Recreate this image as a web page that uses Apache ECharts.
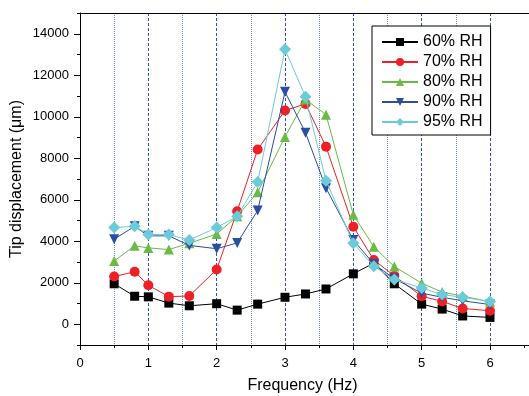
<!DOCTYPE html>
<html>
<head>
<meta charset="utf-8">
<script src="https://cdn.jsdelivr.net/npm/echarts@6/dist/echarts.min.js"></script>
<style>html,body{margin:0;padding:0;background:#fff}#c{width:529px;height:396px}</style>
</head>
<body>
<div id="c"></div>
<script>
var freq = [0.5, 0.8, 1.0, 1.3, 1.6, 2.0, 2.3, 2.6, 3.0, 3.3, 3.6, 4.0, 4.3, 4.6, 5.0, 5.3, 5.6, 6.0];
var rh60 = [1950, 1350, 1320, 1020, 890, 990, 680, 970, 1300, 1460, 1700, 2430, 2950, 1950, 970, 730, 400, 330];
var rh70 = [2300, 2530, 1880, 1330, 1360, 2640, 5450, 8420, 10300, 10620, 8560, 4700, 3100, 2330, 1350, 1100, 760, 650];
var rh80 = [3050, 3780, 3680, 3600, 3900, 4350, 5200, 6360, 9030, 10830, 10100, 5280, 3730, 2780, 1980, 1550, 1360, 1080];
var rh90 = [4100, 4720, 4260, 4260, 3800, 3640, 3920, 5480, 11200, 9230, 6560, 4060, 2900, 2200, 1500, 1300, 1130, 950];
var rh95 = [4660, 4720, 4330, 4320, 4060, 4660, 5200, 6850, 13250, 10960, 6920, 3900, 2800, 2160, 1750, 1430, 1300, 1100];
var seriesNames = ['60% RH', '70% RH', '80% RH', '90% RH', '95% RH'];
var xTicks = [0, 1, 2, 3, 4, 5, 6];
var yTicks = [0, 2000, 4000, 6000, 8000, 10000, 12000, 14000];

var colors = ['#000000', '#ee1f25', '#69bb44', '#2a4ea2', '#6ccbd9'];
var symbols = ['rect', 'circle', 'triangle', 'triangle', 'diamond'];
var rots = [0, 0, 0, 180, 0];
var sizes = [9, 10, 10, 10, 12];
var values = [rh60, rh70, rh80, rh90, rh95];
var FONT = "'Liberation Sans', Arial, sans-serif";

// colours for the half-step dotted grid lines (0, 0.5, 1, ... 6.5, 6.6): only odd half steps up to 5.5
var minorColors = [];
for (var k = 0; k <= 14; k++) minorColors.push((k % 2 === 1 && k < 13) ? '#6f86e6' : 'rgba(0,0,0,0)');

var series = seriesNames.map(function (n, i) {
  return {
    name: n, type: 'line', xAxisIndex: 0, yAxisIndex: 0,
    data: freq.map(function (f, j) { return [f, values[i][j]]; }),
    symbol: symbols[i], symbolRotate: rots[i], symbolSize: sizes[i],
    showAllSymbol: true,
    itemStyle: { color: colors[i] },
    lineStyle: { color: colors[i], width: 1 },
    z: 3 + i
  };
});

var chart = echarts.init(document.getElementById('c'), null, { renderer: 'canvas' });
chart.setOption({
  animation: false,
  backgroundColor: '#fff',
  textStyle: { fontFamily: FONT },
  grid: { left: 80, top: 13, width: 451, height: 332, containLabel: false, outerBoundsMode: 'none', show: false },
  legend: {
    orient: 'vertical', left: 372, top: 26, data: seriesNames,
    backgroundColor: '#fff', borderColor: '#000', borderWidth: 1,
    padding: [8, 8, 5, 9], itemWidth: 36, itemHeight: 10, itemGap: 4, itemTextGap: 5,
    textStyle: { fontFamily: FONT, fontSize: 16, color: '#000' }
  },
  xAxis: [{
    type: 'value', min: 0, max: 6.6, interval: 1, position: 'bottom',
    name: 'Frequency (Hz)', nameLocation: 'middle', nameGap: 33,
    nameTextStyle: { fontFamily: FONT, fontSize: 16, color: '#000', padding: [0, 6, 0, 0] },
    axisLine: { show: true, onZero: false, lineStyle: { color: '#000', width: 1 } },
    axisTick: { show: true, length: 5, lineStyle: { color: '#000' } },
    axisLabel: { show: true, fontFamily: FONT, fontSize: 13, color: '#000', margin: 12,
      customValues: xTicks,
      formatter: function (v) { return xTicks.indexOf(v) >= 0 ? String(v) : ''; } },
    splitLine: { show: true, lineStyle: { color: '#2f4fc0', type: [3, 2], width: 1 } }
  }, {
    type: 'value', min: 0, max: 6.6, interval: 0.5, position: 'bottom',
    axisLine: { show: false, onZero: false },
    axisTick: { show: true, length: 3, lineStyle: { color: '#000' } },
    axisLabel: { show: false },
    splitLine: { show: true, lineStyle: { color: minorColors, type: [1, 1], width: 1 } }
  }, {
    type: 'value', min: 0, max: 6.6, position: 'top',
    axisLine: { show: true, onZero: false, lineStyle: { color: '#000', width: 1 } },
    axisTick: { show: false }, axisLabel: { show: false }, splitLine: { show: false }
  }],
  yAxis: [{
    type: 'value', min: -1000, max: 15000, interval: 1000, position: 'left',
    name: 'Tip displacement (\u03bcm)', nameLocation: 'middle', nameGap: 55,
    nameTextStyle: { fontFamily: FONT, fontSize: 16, color: '#000' },
    axisLine: { show: true, onZero: false, lineStyle: { color: '#000', width: 1 } },
    axisTick: { show: true, length: 3, lineStyle: { color: '#000' } },
    axisLabel: { show: false },
    splitLine: { show: false }
  }, {
    type: 'value', min: -1000, max: 15000, interval: 1000, position: 'left', offset: 0,
    axisLine: { show: false, onZero: false },
    axisTick: { show: true, length: 6, customValues: yTicks, lineStyle: { color: '#000' } },
    axisLabel: { show: true, fontFamily: FONT, fontSize: 13, color: '#000', margin: 11,
      customValues: yTicks,
      formatter: function (v) { return yTicks.indexOf(v) >= 0 ? String(v) : ''; } },
    splitLine: { show: false }
  }],
  series: series
});
</script>
</body>
</html>
